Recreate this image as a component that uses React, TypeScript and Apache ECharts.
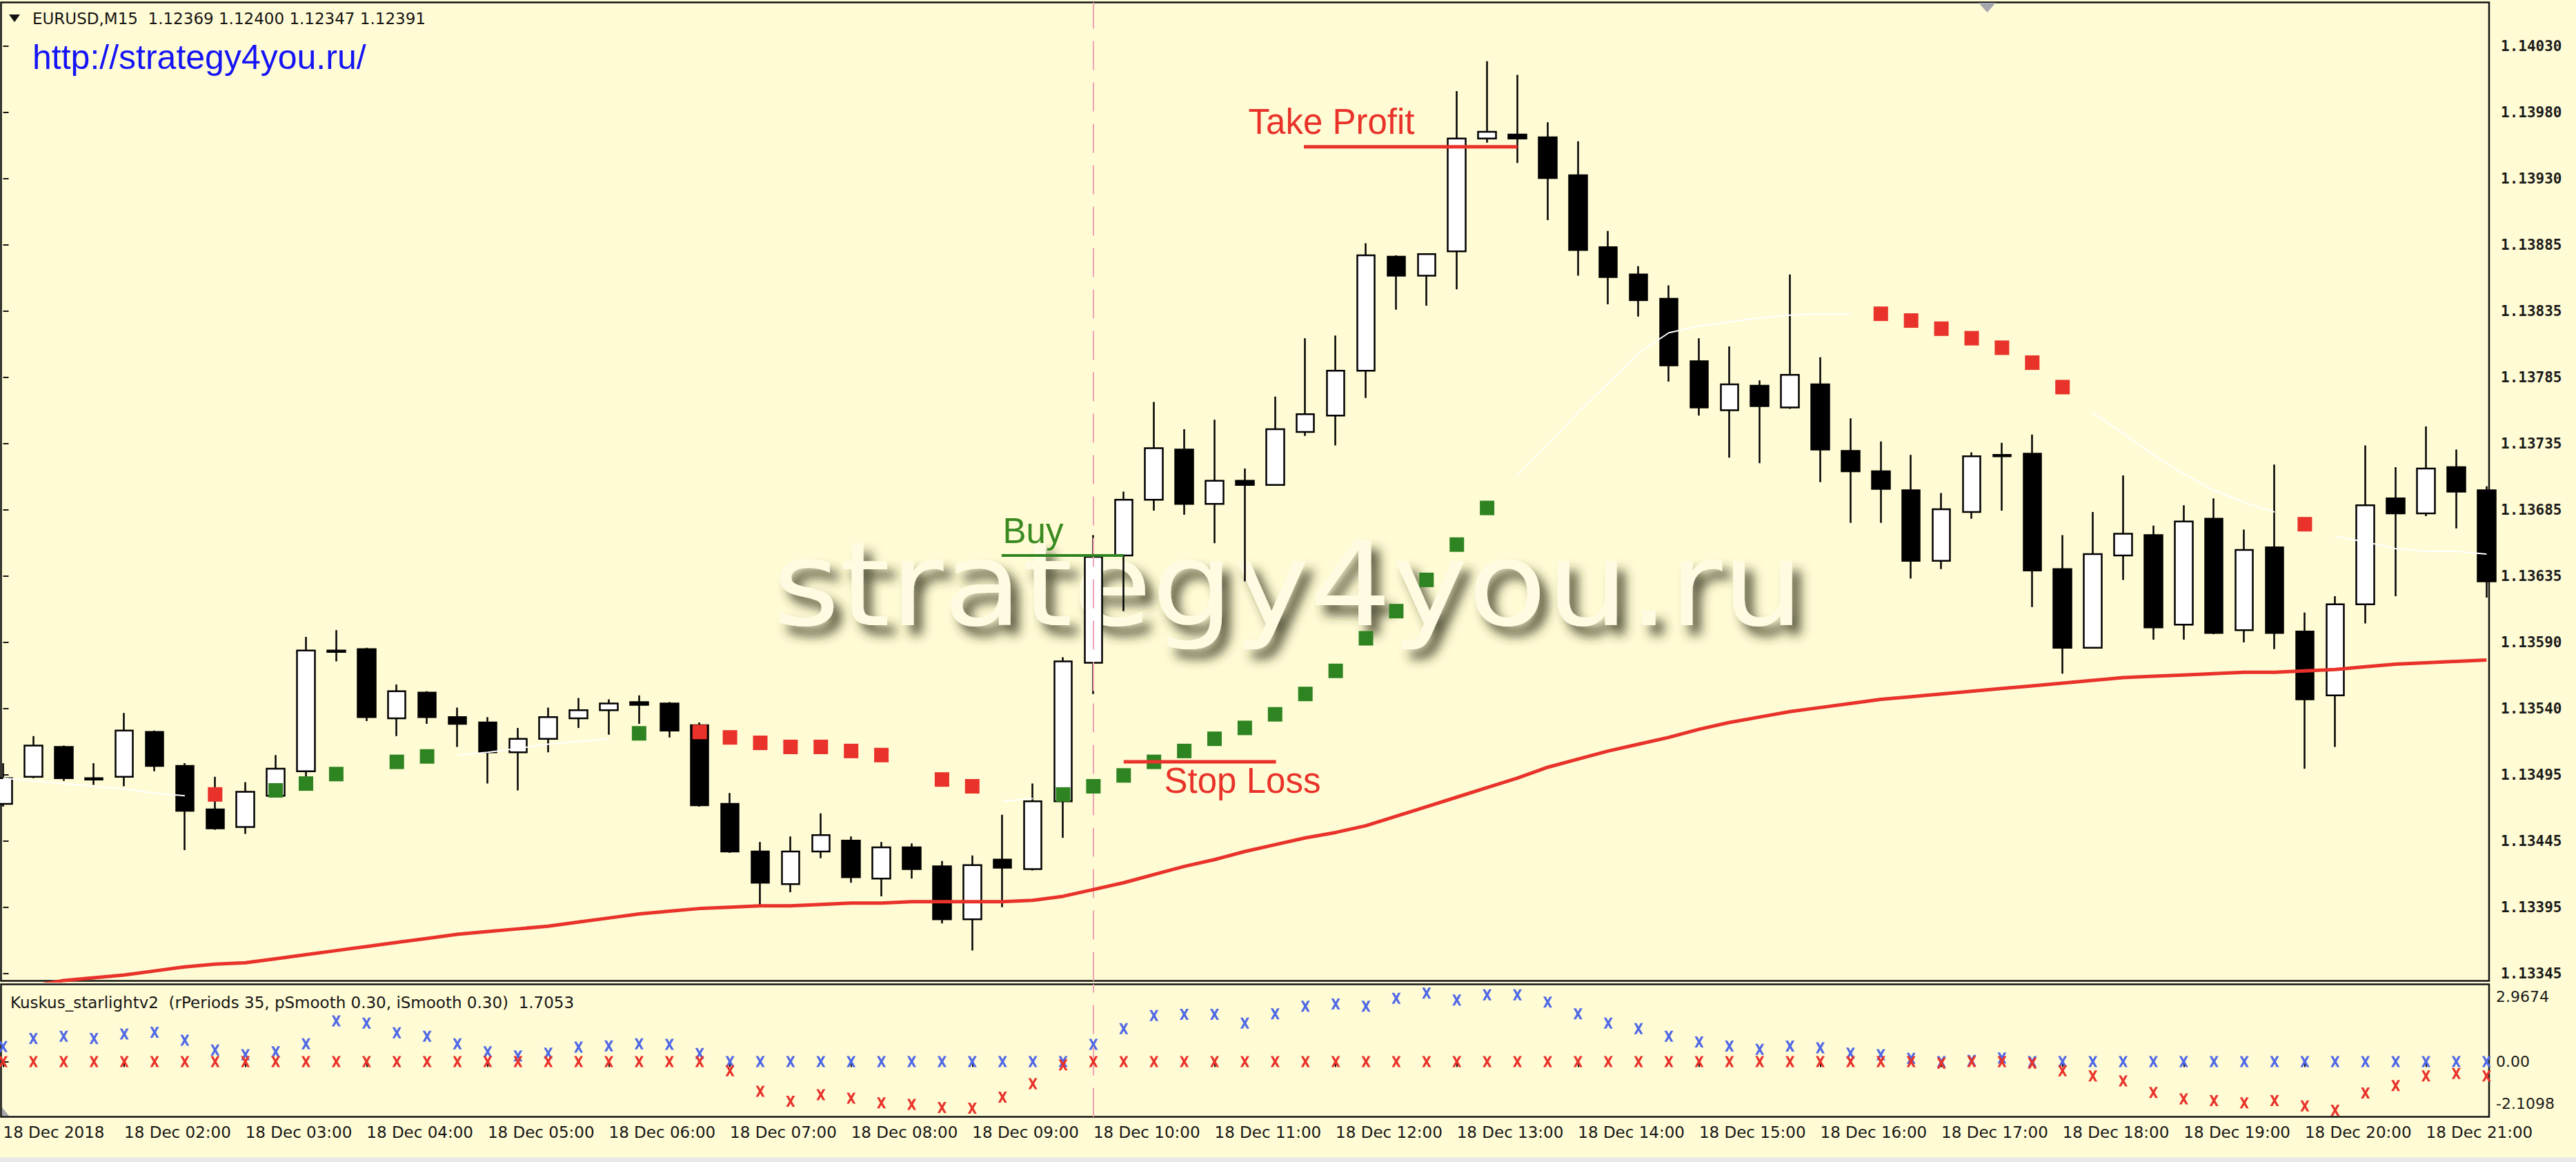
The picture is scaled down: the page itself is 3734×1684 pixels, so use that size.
import React, { useEffect, useRef } from 'react';
import * as echarts from 'echarts';

// ---------------- DATA ----------------
const timeLabels = [
  '18 Dec 2018', '18 Dec 02:00', '18 Dec 03:00', '18 Dec 04:00', '18 Dec 05:00', '18 Dec 06:00',
  '18 Dec 07:00', '18 Dec 08:00', '18 Dec 09:00', '18 Dec 10:00', '18 Dec 11:00', '18 Dec 12:00',
  '18 Dec 13:00', '18 Dec 14:00', '18 Dec 15:00', '18 Dec 16:00', '18 Dec 17:00', '18 Dec 18:00',
  '18 Dec 19:00', '18 Dec 20:00', '18 Dec 21:00',
];
const timeLabelBars = [0, 4, 8, 12, 16, 20, 24, 28, 32, 36, 40, 44, 48, 52, 56, 60, 64, 68, 72, 76, 80];

const priceLabels = [
  '1.14030', '1.13980', '1.13930', '1.13885', '1.13835', '1.13785', '1.13735', '1.13685',
  '1.13635', '1.13590', '1.13540', '1.13495', '1.13445', '1.13395', '1.13345',
];
const indicatorLabels = ['2.9674', '0.00', '-2.1098'];
const indicatorLabelLevels = [2.81, 0, -1.84];

const opens = [
  1.13472, 1.13492, 1.13514, 1.13491, 1.13492, 1.13525, 1.13500, 1.13468, 1.13455, 1.13478,
  1.13496, 1.13585, 1.13586, 1.13535, 1.13554, 1.13536, 1.13532, 1.13510, 1.13520, 1.13535,
  1.13541, 1.13547, 1.13546, 1.13530, 1.13472, 1.13437, 1.13413, 1.13437, 1.13445, 1.13417,
  1.13440, 1.13426, 1.13387, 1.13431, 1.13424, 1.13474, 1.13576, 1.13655, 1.13696, 1.13733,
  1.13693, 1.13710, 1.13707, 1.13746, 1.13758, 1.13791, 1.13875, 1.13861, 1.13879, 1.13962,
  1.13965, 1.13963, 1.13935, 1.13882, 1.13862, 1.13844, 1.13798, 1.13762, 1.13780, 1.13764,
  1.13781, 1.13732, 1.13717, 1.13703, 1.13651, 1.13687, 1.13729, 1.13730, 1.13645, 1.13587,
  1.13655, 1.13670, 1.13604, 1.13682, 1.13600, 1.13661, 1.13599, 1.13552, 1.13619, 1.13697,
  1.13686, 1.13720, 1.13703,
];
const closes = [
  1.13491, 1.13515, 1.13491, 1.13490, 1.13526, 1.13500, 1.13467, 1.13454, 1.13481, 1.13498,
  1.13585, 1.13584, 1.13536, 1.13555, 1.13536, 1.13531, 1.13510, 1.13520, 1.13536, 1.13541,
  1.13546, 1.13545, 1.13526, 1.13471, 1.13437, 1.13414, 1.13437, 1.13449, 1.13418, 1.13440,
  1.13424, 1.13387, 1.13427, 1.13425, 1.13474, 1.13577, 1.13654, 1.13696, 1.13734, 1.13693,
  1.13710, 1.13707, 1.13748, 1.13759, 1.13791, 1.13876, 1.13861, 1.13877, 1.13962, 1.13967,
  1.13962, 1.13933, 1.13880, 1.13860, 1.13843, 1.13795, 1.13764, 1.13781, 1.13765, 1.13788,
  1.13733, 1.13717, 1.13704, 1.13651, 1.13689, 1.13728, 1.13728, 1.13644, 1.13587, 1.13656,
  1.13671, 1.13602, 1.13680, 1.13598, 1.13659, 1.13598, 1.13549, 1.13619, 1.13692, 1.13686,
  1.13719, 1.13702, 1.13636,
];
const lows = [
  1.13470, 1.13491, 1.13489, 1.13486, 1.13485, 1.13496, 1.13438, 1.13453, 1.13450, 1.13477,
  1.13492, 1.13577, 1.13533, 1.13522, 1.13531, 1.13514, 1.13487, 1.13482, 1.13510, 1.13528,
  1.13523, 1.13531, 1.13521, 1.13470, 1.13436, 1.13397, 1.13407, 1.13432, 1.13414, 1.13404,
  1.13417, 1.13384, 1.13364, 1.13396, 1.13423, 1.13447, 1.13553, 1.13614, 1.13688, 1.13685,
  1.13664, 1.13636, 1.13707, 1.13743, 1.13736, 1.13771, 1.13836, 1.13839, 1.13851, 1.13959,
  1.13944, 1.13902, 1.13861, 1.13840, 1.13831, 1.13783, 1.13758, 1.13727, 1.13723, 1.13763,
  1.13709, 1.13679, 1.13679, 1.13638, 1.13645, 1.13682, 1.13688, 1.13617, 1.13568, 1.13587,
  1.13637, 1.13593, 1.13593, 1.13597, 1.13591, 1.13586, 1.13498, 1.13514, 1.13605, 1.13625,
  1.13684, 1.13675, 1.13624,
];
const highs = [
  1.13502, 1.13522, 1.13515, 1.13502, 1.13539, 1.13526, 1.13502, 1.13492, 1.13488, 1.13508,
  1.13595, 1.13600, 1.13587, 1.13560, 1.13555, 1.13543, 1.13536, 1.13528, 1.13543, 1.13550,
  1.13549, 1.13552, 1.13547, 1.13532, 1.13480, 1.13444, 1.13448, 1.13465, 1.13448, 1.13444,
  1.13443, 1.13430, 1.13434, 1.13464, 1.13487, 1.13580, 1.13670, 1.13702, 1.13768, 1.13748,
  1.13755, 1.13719, 1.13772, 1.13815, 1.13817, 1.13885, 1.13876, 1.13877, 1.13997, 1.14019,
  1.14009, 1.13974, 1.13960, 1.13894, 1.13868, 1.13854, 1.13815, 1.13809, 1.13784, 1.13862,
  1.13801, 1.13756, 1.13739, 1.13729, 1.13701, 1.13731, 1.13738, 1.13744, 1.13670, 1.13687,
  1.13714, 1.13677, 1.13692, 1.13697, 1.13674, 1.13722, 1.13613, 1.13625, 1.13736, 1.13720,
  1.13750, 1.13733, 1.13706,
];

// red moving average
const movingAverage = [
  1.13334, 1.13338, 1.13342, 1.13344, 1.13346, 1.13349, 1.13352, 1.13354, 1.13355, 1.13358,
  1.13361, 1.13364, 1.13367, 1.13370, 1.13373, 1.13376, 1.13378, 1.13380, 1.13382, 1.13385,
  1.13388, 1.13391, 1.13393, 1.13395, 1.13396, 1.13397, 1.13397, 1.13398, 1.13399, 1.13399,
  1.13400, 1.13400, 1.13400, 1.13400, 1.13401, 1.13404, 1.13409, 1.13414, 1.13420, 1.13426,
  1.13431, 1.13437, 1.13442, 1.13447, 1.13451, 1.13456, 1.13463, 1.13470, 1.13477, 1.13484,
  1.13491, 1.13499, 1.13505, 1.13511, 1.13516, 1.13521, 1.13527, 1.13532, 1.13536, 1.13540,
  1.13543, 1.13546, 1.13549, 1.13551, 1.13553, 1.13555, 1.13557, 1.13559, 1.13561, 1.13563,
  1.13565, 1.13566, 1.13567, 1.13568, 1.13569, 1.13569, 1.13570, 1.13571, 1.13573, 1.13575,
  1.13576, 1.13577, 1.13578,
];

// thin white line (gaps where the dots are)
const whiteLine: (number | null)[] = [
  1.13491, 1.13489, 1.13487, 1.13485, 1.13483, 1.13480, 1.13478, null, null, null,
  null, null, null, null, null, 1.13508, 1.13510, 1.13513, 1.13516, 1.13518,
  1.13520, null, null, null, null, null, null, null, null, null,
  null, null, null, 1.13474, 1.13476, null, null, null, null, null,
  null, null, null, null, null, null, null, null, null, null,
  1.13714, 1.13737, 1.13760, 1.13782, 1.13804, 1.13819, 1.13824, 1.13827, 1.13830, 1.13832,
  1.13833, 1.13833, null, null, null, null, null, null, null, 1.13760,
  1.13745, 1.13729, 1.13715, 1.13703, 1.13694, 1.13687, null, 1.13669, 1.13665, 1.13660,
  1.13658, 1.13658, 1.13656,
];

const greenDots = [
  [9, 1.13482], [10, 1.13487], [11, 1.13494], [13, 1.13503], [14, 1.13507], [21, 1.13524],
  [35, 1.13479], [36, 1.13485], [37, 1.13493], [38, 1.13503], [39, 1.13511], [40, 1.13520],
  [41, 1.13528], [42, 1.13538], [43, 1.13553], [44, 1.13570], [45, 1.13594], [46, 1.13614],
  [47, 1.13637], [48, 1.13663], [49, 1.13690],
];
const redDots = [
  [7, 1.13479], [23, 1.13525], [24, 1.13521], [25, 1.13517], [26, 1.13514], [27, 1.13514],
  [28, 1.13511], [29, 1.13508], [31, 1.13490], [32, 1.13485], [62, 1.13833], [63, 1.13828],
  [64, 1.13822], [65, 1.13815], [66, 1.13808], [67, 1.13797], [68, 1.13779], [76, 1.13678],
];

const buyLine = [[32.97, 1.13655], [37, 1.13655]];
const stopLossLine = [[37, 1.13503], [42.03, 1.13503]];
const takeProfitLine = [[42.95, 1.13956], [50, 1.13956]];
const buyLabel = { text: 'Buy', bar: 33.02, price: 1.13673 };
const stopLossLabel = { text: 'Stop Loss', bar: 38.35, price: 1.13489 };
const takeProfitLabel = { text: 'Take Profit', bar: 41.13, price: 1.13974 };
const entryBar = 36;

// Kuskus_starlightv2 indicator
const kuskusBlue = [
  0.65, 1.00, 1.10, 1.00, 1.20, 1.27, 0.93, 0.50, 0.30, 0.43,
  0.77, 1.77, 1.67, 1.25, 1.10, 0.77, 0.43, 0.25, 0.37, 0.63,
  0.68, 0.77, 0.75, 0.35, 0, 0, 0, 0, 0, 0,
  0, 0, 0, 0, 0, 0, 0.75, 1.43, 2.00, 2.05,
  2.05, 1.67, 2.07, 2.40, 2.50, 2.40, 2.75, 2.97, 2.67, 2.90,
  2.90, 2.58, 2.07, 1.67, 1.43, 1.10, 0.85, 0.67, 0.53, 0.67,
  0.60, 0.37, 0.30, 0.14, 0, 0.05, 0.16, 0, 0, 0,
  0, 0, 0, 0, 0, 0, 0, 0, 0, 0,
  0, 0, 0,
];
const kuskusRed = [
  0, 0, 0, 0, 0, 0, 0, 0, 0, 0,
  0, 0, 0, 0, 0, 0, 0, 0, 0, 0,
  0, 0, 0, 0, -0.40, -1.29, -1.72, -1.44, -1.59, -1.79,
  -1.86, -1.99, -2.02, -1.54, -0.96, -0.14, 0, 0, 0, 0,
  0, 0, 0, 0, 0, 0, 0, 0, 0, 0,
  0, 0, 0, 0, 0, 0, 0, 0, 0, 0,
  0, 0, 0, 0, -0.07, 0, 0, -0.07, -0.40, -0.62,
  -0.84, -1.34, -1.62, -1.69, -1.79, -1.69, -1.92, -2.11, -1.36, -1.04,
  -0.62, -0.52, -0.62,
];

// ---------------- LAYOUT / STYLE ----------------
const W = 3734;
const H = 1684;
const BG = '#fffbd4';
const FRAME = '#141414';
const RED = '#e8322a';
const GREEN = '#2f8422';
const BLUE = '#4f68e6';

const X_MIN = -0.0683;
const X_MAX = 82.084;
const P_MAX = 1.140623;
const P_MIN = 1.133417;
const I_MAX = 3.3533;
const I_MIN = -2.3952;
const PRICE_TICK_TOP = 1.1403;
const PRICE_TICK_BOTTOM = 1.13347;

const priceTickValues = priceLabels.map(
  (_, i) => PRICE_TICK_TOP - (i * (PRICE_TICK_TOP - PRICE_TICK_BOTTOM)) / (priceLabels.length - 1)
);

function nearestIndex(arr: number[], v: number) {
  let best = 0;
  for (let i = 1; i < arr.length; i++) {
    if (Math.abs(arr[i] - v) < Math.abs(arr[best] - v)) best = i;
  }
  return best;
}

const X_SYMBOL = 'path://M0,0L3.4,0L6,5L8.6,0L12,0L7.8,8L12,16L8.6,16L6,11L3.4,16L0,16L4.2,8Z';

function buildOption() {
  const candles = opens.map((o, i) => [i, o, closes[i], lows[i], highs[i]]);
  const annotation = (a: { text: string; bar: number; price: number }, color: string) => ({
    value: [a.bar, a.price],
    label: {
      show: true,
      formatter: a.text,
      position: [0, 0],
      align: 'left',
      verticalAlign: 'middle',
      color,
      opacity: 1,
      fontFamily: '"Liberation Sans", Arial, sans-serif',
      fontSize: 51,
    },
  });

  const entryMarkLine = {
    silent: true,
    symbol: 'none',
    label: { show: false },
    lineStyle: { color: '#f3a3b4', width: 2, type: [42, 18] },
    data: [{ xAxis: entryBar }],
  };

  return {
    animation: false,
    backgroundColor: BG,
    grid: [
      { left: 1.5, top: 3.5, width: 3606.5, height: 1418, show: true, borderColor: FRAME, borderWidth: 2.5, backgroundColor: 'transparent' },
      { left: 1.5, top: 1426.5, width: 3606.5, height: 192, show: true, borderColor: FRAME, borderWidth: 2.5, backgroundColor: 'transparent' },
    ],
    xAxis: [
      { type: 'value', gridIndex: 0, min: X_MIN, max: X_MAX, show: false },
      {
        type: 'value', gridIndex: 1, min: X_MIN, max: X_MAX,
        axisLine: { show: false }, splitLine: { show: false },
        axisTick: { show: true, customValues: timeLabelBars, length: 8, lineStyle: { color: FRAME, width: 2 } },
        axisLabel: {
          show: true, customValues: timeLabelBars, margin: 11, align: 'left', hideOverlap: false,
          color: '#151515', fontFamily: '"DejaVu Sans", sans-serif', fontSize: 23,
          formatter: (v: number) => timeLabels[nearestIndex(timeLabelBars, v)],
        },
      },
    ],
    yAxis: [
      {
        type: 'value', gridIndex: 0, position: 'right', min: P_MIN, max: P_MAX,
        splitLine: { show: false }, axisLine: { show: false },
        axisTick: { show: true, customValues: priceTickValues, length: 8, lineStyle: { color: FRAME, width: 2 } },
        axisLabel: {
          show: true, customValues: priceTickValues, margin: 17, hideOverlap: false,
          color: '#1a1a1a', fontFamily: '"DejaVu Sans Mono", monospace', fontSize: 21, fontWeight: 'bold',
          formatter: (v: number) => priceLabels[nearestIndex(priceTickValues, v)],
        },
      },
      {
        type: 'value', gridIndex: 1, position: 'right', min: I_MIN, max: I_MAX,
        splitLine: { show: false }, axisLine: { show: false },
        axisTick: { show: true, customValues: [0], length: 8, lineStyle: { color: FRAME, width: 2 } },
        axisLabel: {
          show: true, customValues: indicatorLabelLevels, margin: 10, hideOverlap: false,
          color: '#1a1a1a', fontFamily: '"DejaVu Sans", sans-serif', fontSize: 22,
          formatter: (v: number) => indicatorLabels[nearestIndex(indicatorLabelLevels, v)],
        },
      },
    ],
    series: [
      {
        type: 'candlestick', xAxisIndex: 0, yAxisIndex: 0, z: 3,
        data: candles, barWidth: 26,
        itemStyle: { color: '#ffffff', color0: '#000000', borderColor: '#000000', borderColor0: '#000000', borderWidth: 2.5 },
        markLine: entryMarkLine,
      },
      {
        type: 'line', xAxisIndex: 0, yAxisIndex: 0, z: 4, showSymbol: false, connectNulls: false,
        data: whiteLine.map((v, i) => [i, v === null ? '-' : v]),
        lineStyle: { color: '#ffffff', width: 2 },
      },
      {
        type: 'line', xAxisIndex: 0, yAxisIndex: 0, z: 5, showSymbol: false,
        data: movingAverage.map((v, i) => [i, v]),
        lineStyle: { color: RED, width: 5 },
      },
      {
        type: 'scatter', xAxisIndex: 0, yAxisIndex: 0, z: 6, symbol: 'rect', symbolSize: [21, 21],
        data: greenDots, itemStyle: { color: GREEN, opacity: 1 },
      },
      {
        type: 'scatter', xAxisIndex: 0, yAxisIndex: 0, z: 6, symbol: 'rect', symbolSize: [21, 21],
        data: redDots, itemStyle: { color: RED, opacity: 1 },
      },
      {
        type: 'line', xAxisIndex: 0, yAxisIndex: 0, z: 7, showSymbol: false,
        data: buyLine, lineStyle: { color: GREEN, width: 4 },
      },
      {
        type: 'line', xAxisIndex: 0, yAxisIndex: 0, z: 7, showSymbol: false,
        data: stopLossLine, lineStyle: { color: RED, width: 5 },
      },
      {
        type: 'line', xAxisIndex: 0, yAxisIndex: 0, z: 7, showSymbol: false,
        data: takeProfitLine, lineStyle: { color: RED, width: 5 },
      },
      {
        type: 'scatter', xAxisIndex: 0, yAxisIndex: 0, z: 8, symbolSize: 1,
        itemStyle: { color: 'rgba(0,0,0,0)' },
        data: [annotation(buyLabel, '#3a8a22'), annotation(stopLossLabel, RED), annotation(takeProfitLabel, RED)],
      },
      {
        type: 'scatter', xAxisIndex: 1, yAxisIndex: 1, z: 4, symbol: X_SYMBOL, symbolSize: [13, 16],
        data: kuskusBlue.map((v, i) => [i, v]), itemStyle: { color: BLUE, opacity: 1 },
        markLine: entryMarkLine,
      },
      {
        type: 'scatter', xAxisIndex: 1, yAxisIndex: 1, z: 5, symbol: X_SYMBOL, symbolSize: [13, 16],
        data: kuskusRed.map((v, i) => [i, v]), itemStyle: { color: RED, opacity: 1 },
      },
    ],
    graphic: [
      {
        type: 'text', z: 1, x: 1120, y: 847, scaleX: 1.098, silent: true,
        style: {
          text: 'strategy4you.ru', font: '170px "DejaVu Sans", sans-serif', fill: '#fffbe2',
          align: 'left', verticalAlign: 'middle', textAlign: 'left', textVerticalAlign: 'middle',
          shadowColor: 'rgba(45,45,25,0.8)', shadowBlur: 16, shadowOffsetX: 12, shadowOffsetY: 14,
          textShadowColor: 'rgba(45,45,25,0.8)', textShadowBlur: 16, textShadowOffsetX: 12, textShadowOffsetY: 14,
        },
      },
      {
        type: 'text', z: 100, x: 47, y: 83, silent: true,
        style: {
          text: 'http://strategy4you.ru/', font: '50px "Liberation Sans", Arial, sans-serif', fill: '#1414f5',
          align: 'left', verticalAlign: 'middle', textAlign: 'left', textVerticalAlign: 'middle',
        },
      },
      {
        type: 'polygon', z: 100, silent: true,
        shape: { points: [[13, 21], [29, 21], [21, 32]] }, style: { fill: '#111' },
      },
      {
        type: 'text', z: 100, x: 47, y: 27, silent: true,
        style: {
          text: 'EURUSD,M15  1.12369 1.12400 1.12347 1.12391', font: '23px "DejaVu Sans", sans-serif', fill: '#151515',
          align: 'left', verticalAlign: 'middle', textAlign: 'left', textVerticalAlign: 'middle',
        },
      },
      {
        type: 'text', z: 100, x: 15, y: 1453, silent: true,
        style: {
          text: 'Kuskus_starlightv2  (rPeriods 35, pSmooth 0.30, iSmooth 0.30)  1.7053', font: '23px "DejaVu Sans", sans-serif', fill: '#151515',
          align: 'left', verticalAlign: 'middle', textAlign: 'left', textVerticalAlign: 'middle',
        },
      },
      {
        type: 'polygon', z: 100, silent: true,
        shape: { points: [[2868, 4], [2893, 4], [2880.5, 18]] }, style: { fill: '#a6a6ae' },
      },
      {
        type: 'polygon', z: 100, silent: true,
        shape: { points: [[3, 1605], [3, 1617], [13, 1617]] }, style: { fill: '#a6a6ae' },
      },
      {
        type: 'rect', z: 100, silent: true,
        shape: { x: 0, y: 1677, width: W, height: 7 }, style: { fill: '#e8e8e4' },
      },
    ],
  };
}

export default function App() {
  const ref = useRef<HTMLDivElement>(null);
  useEffect(() => {
    document.body.style.margin = '0';
    const chart = echarts.init(ref.current as HTMLDivElement, null, { renderer: 'svg' });
    chart.setOption(buildOption() as any);
    return () => chart.dispose();
  }, []);
  return <div ref={ref} style={{ position: 'fixed', left: 0, top: 0, width: W, height: H }} />;
}
